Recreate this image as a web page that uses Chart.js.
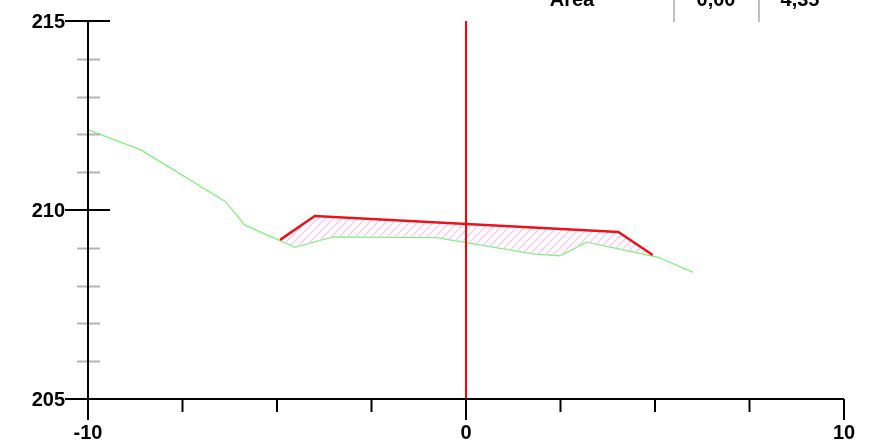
<!DOCTYPE html>
<html>
<head>
<meta charset="utf-8">
<script src="https://cdn.jsdelivr.net/npm/chart.js@4.4.0/dist/chart.umd.min.js"></script>
<style>
  html, body { margin: 0; padding: 0; background: #fff; }
  #wrap { width: 881px; height: 446px; position: relative; }
</style>
</head>
<body>
<div id="wrap"><canvas id="perfil"></canvas></div>
<script>
// ── Data ─────────────────────────────────────────────────────
const terrenoX = [-10, -8.6, -6.36, -5.85, -4.52, -3.52, -0.78, 1.78, 2.49, 3.19, 5.09, 6.01];
const terrenoY = [212.12, 211.59, 210.22, 209.6, 209.01, 209.29, 209.27, 208.84, 208.79, 209.15, 208.75, 208.35];

const rasanteX = [-4.92, -4.0, 4.03, 4.94];
const rasanteY = [209.21, 209.84, 209.42, 208.81];

const ejeX = [0, 0];
const ejeY = [205, 215];

const xTicks  = [-10, -7.5, -5, -2.5, 0, 2.5, 5, 7.5, 10];
const xLabels = [-10, 0, 10];
const yMajor  = [205, 210, 215];
const yMinor  = [206, 207, 208, 209, 211, 212, 213, 214];

const headLabels = ['Area', '0,00', '4,35'];

// ── Helpers ──────────────────────────────────────────────────
const pts = (xs, ys) => xs.map((x, i) => ({ x, y: ys[i] }));
const FONT = 'bold 20px "Liberation Sans", Arial, sans-serif';

function hatch() {
  const c = document.createElement('canvas');
  c.width = 8; c.height = 8;
  const g = c.getContext('2d');
  g.strokeStyle = '#f6c8ee';
  g.lineWidth = 1.3;
  g.beginPath();
  g.moveTo(0, 8); g.lineTo(8, 0);
  g.moveTo(-2, 2); g.lineTo(2, -2);
  g.moveTo(6, 10); g.lineTo(10, 6);
  g.stroke();
  return g.createPattern(c, 'repeat');
}

// ── Axes drawn by hand (CAD style) ───────────────────────────
const axesPlugin = {
  id: 'axes',
  afterDraw(chart) {
    const { ctx, scales: { x, y } } = chart;
    const x0 = x.getPixelForValue(-10);
    const x1 = x.getPixelForValue(10);
    const yb = y.getPixelForValue(205);
    const yt = y.getPixelForValue(215);
    ctx.save();
    ctx.lineCap = 'butt';

    // minor y ticks
    ctx.strokeStyle = '#b4b4b4';
    ctx.lineWidth = 2;
    yMinor.forEach(v => {
      const p = Math.round(y.getPixelForValue(v)) + 0.5;
      ctx.beginPath(); ctx.moveTo(x0 - 11, p); ctx.lineTo(x0 + 12, p); ctx.stroke();
    });

    ctx.strokeStyle = '#000';
    ctx.lineWidth = 2;
    // y axis
    ctx.beginPath(); ctx.moveTo(x0, yt); ctx.lineTo(x0, yb + 21); ctx.stroke();
    // x axis
    ctx.beginPath(); ctx.moveTo(x0, yb); ctx.lineTo(x1, yb); ctx.stroke();
    // major y ticks
    yMajor.forEach(v => {
      const p = y.getPixelForValue(v);
      ctx.beginPath(); ctx.moveTo(x0 - 23, p); ctx.lineTo(x0 + 22, p); ctx.stroke();
    });
    // x ticks
    xTicks.forEach(v => {
      const p = x.getPixelForValue(v);
      const len = xLabels.includes(v) ? 21 : 13;
      ctx.beginPath(); ctx.moveTo(p, yb); ctx.lineTo(p, yb + len); ctx.stroke();
    });

    // labels
    ctx.fillStyle = '#000';
    ctx.font = FONT;
    ctx.textBaseline = 'middle';
    ctx.textAlign = 'right';
    yMajor.forEach(v => ctx.fillText(String(v), x0 - 23, y.getPixelForValue(v) + 1));
    ctx.textAlign = 'center';
    xLabels.forEach(v => ctx.fillText(String(v), x.getPixelForValue(v), yb + 34));

    // header (cut off at the top)
    ctx.textBaseline = 'alphabetic';
    const hx = [572, 716, 800];
    headLabels.forEach((t, i) => ctx.fillText(t, hx[i], 6));
    ctx.strokeStyle = '#c0c0c0';
    [674, 759].forEach(p => {
      ctx.beginPath(); ctx.moveTo(p, 0); ctx.lineTo(p, 22); ctx.stroke();
    });
    ctx.restore();
  }
};

// ── Chart ────────────────────────────────────────────────────
new Chart(document.getElementById('perfil'), {
  type: 'scatter',
  data: {
    datasets: [
      {
        label: 'Eje',
        data: pts(ejeX, ejeY),
        showLine: true,
        borderColor: '#ff0000',
        borderWidth: 2,
        pointRadius: 0,
        fill: false
      },
      {
        label: 'Rasante',
        data: pts(rasanteX, rasanteY),
        showLine: true,
        borderColor: '#e8141c',
        borderWidth: 2.5,
        pointRadius: 0,
        backgroundColor: hatch(),
        fill: { target: 2 }
      },
      {
        label: 'Terreno',
        data: pts(terrenoX, terrenoY),
        showLine: true,
        borderColor: '#7ef07e',
        borderWidth: 1.3,
        pointRadius: 0,
        fill: false
      }
    ]
  },
  options: {
    responsive: true,
    maintainAspectRatio: false,
    animation: false,
    layout: { padding: { left: 88, right: 37, top: 21, bottom: 47 } },
    plugins: { legend: { display: false }, tooltip: { enabled: false } },
    scales: {
      x: { type: 'linear', min: -10, max: 10, display: false },
      y: { type: 'linear', min: 205, max: 215, display: false }
    }
  },
  plugins: [axesPlugin]
});
</script>
</body>
</html>
